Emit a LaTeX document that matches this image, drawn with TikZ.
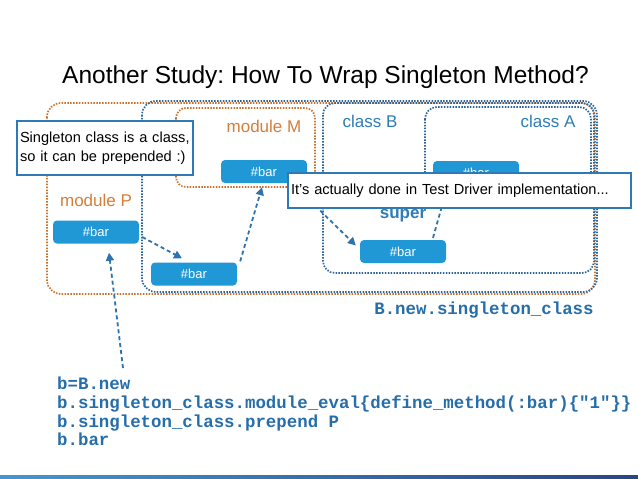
\documentclass[tikz,border=0pt]{standalone}
\usepackage{fontspec}
\setmainfont{Liberation Sans}
\newfontfamily\codefont{Liberation Mono}
\usetikzlibrary{arrows.meta,calc}
\frenchspacing
\definecolor{barblue}{RGB}{33,152,214}
\definecolor{lblblue}{RGB}{46,125,182}
\definecolor{lblorange}{RGB}{212,126,58}
\definecolor{dotblue}{RGB}{44,100,152}
\definecolor{dotorange}{RGB}{200,115,45}
\definecolor{callblue}{RGB}{45,122,182}
\definecolor{codeblue}{RGB}{38,110,170}
\definecolor{arrblue}{RGB}{45,115,175}
\definecolor{barL}{RGB}{70,150,205}
\definecolor{barR}{RGB}{40,70,130}
\begin{document}
\begin{tikzpicture}[x=1pt,y=-1pt,
  barbox/.style={fill=barblue, rounded corners=4pt, minimum width=86pt, minimum height=23pt, inner sep=0pt, text=white, font=\fontsize{13}{15}\selectfont},
  odot/.style={draw=dotorange, line width=1.7pt, dash pattern=on 1.5pt off 1.4pt, rounded corners=14pt},
  bdot/.style={draw=dotblue, line width=1.7pt, dash pattern=on 1.5pt off 1.4pt, rounded corners=14pt},
  olabel/.style={text=lblorange, font=\fontsize{17}{19}\selectfont, inner sep=0pt},
  blabel/.style={text=lblblue, font=\fontsize{17}{19}\selectfont, inner sep=0pt},
  callout/.style={draw=callblue, fill=white, line width=1.4pt, inner xsep=3pt, inner ysep=0pt, align=left, font=\fontsize{14.6}{19}\selectfont},
  arr/.style={draw=arrblue, line width=1.8pt, dash pattern=on 4pt off 3pt, -{Triangle[length=8pt,width=8pt]}},
  code/.style={text=codeblue, inner sep=0pt, align=left, font=\codefont\bfseries\fontsize{17.4}{18.7}\selectfont}
]
\useasboundingbox (0,0) rectangle (638,479);
\fill[white] (0,0) rectangle (638,479);

% title
\node[anchor=base west, inner sep=0pt, font=\fontsize{24.5}{28}\selectfont] (title) at (62,83) {Another Study: How To Wrap Singleton Method?};

% containers
\draw[odot] (47,103) rectangle (595,294);
\draw[bdot] (142,101) rectangle (597,292);
\draw[odot, rounded corners=10pt] (176,108) rectangle (315,187);
\draw[bdot, rounded corners=12pt] (323,103) rectangle (594,273);
\draw[bdot, rounded corners=12pt] (425,107) rectangle (591,200);

% labels
\node[olabel] (lP) at (96,200) {module P};
\node[olabel] (lM) at (264,126) {module M};
\node[blabel] (lB) at (370,121) {class B};
\node[blabel] (lA) at (548,121) {class A};
\node[text=lblblue, font=\bfseries\fontsize{17}{19}\selectfont, inner sep=0pt] (super) at (403,216) {super};

% method boxes
\node[barbox] (barP) at (96,232) {\#bar};
\node[barbox] (barM) at (264,171.5) {\#bar};
\node[barbox] (barS) at (194,274) {\#bar};
\node[barbox] (barB) at (403,251.5) {\#bar};
\node[barbox] (barA) at (476,172.5) {\#bar};

% code
\node[code, anchor=north west] (code) at (57,377) {b=B.new\\
b.singleton\_class.module\_eval\{define\_method(:bar)\{"1"\}\}\\
b.singleton\_class.prepend P\\
b.bar};
\node[code] (sc) at (484,310) {B.new.singleton\_class};

% arrows
\draw[arr] ($(barP.east)+(3,5)$) -- ($(barS.north)+(-12,-4)$);
\draw[arr] ($(barS.north east)+(3,-1)$) -- ($(barM.south)+(-2,4)$);
\draw[arr] ($(barM.south east)+(-12,3)$) -- ($(barB.west)+(-4,-6)$);
\draw[arr] ($(barB.north)+(30,-2)$) -- ($(barA.south)+(-29,4)$);
\draw[arr] ($(code.north west)+(66,-9)$) -- ($(barP.south)+(13,9)$);

% callouts
\node[callout, text width=170pt, minimum height=54pt] (c1) at (105,148) {Singleton class is a class,\\so it can be prepended :)};
\node[callout, text width=337pt, minimum height=35pt] (c2) at (459.5,190.5) {It's actually done in Test Driver implementation...};

% bottom bar
\shade[left color=barL, right color=barR] (0,475.5) rectangle (638,479);
\end{tikzpicture}
\end{document}
